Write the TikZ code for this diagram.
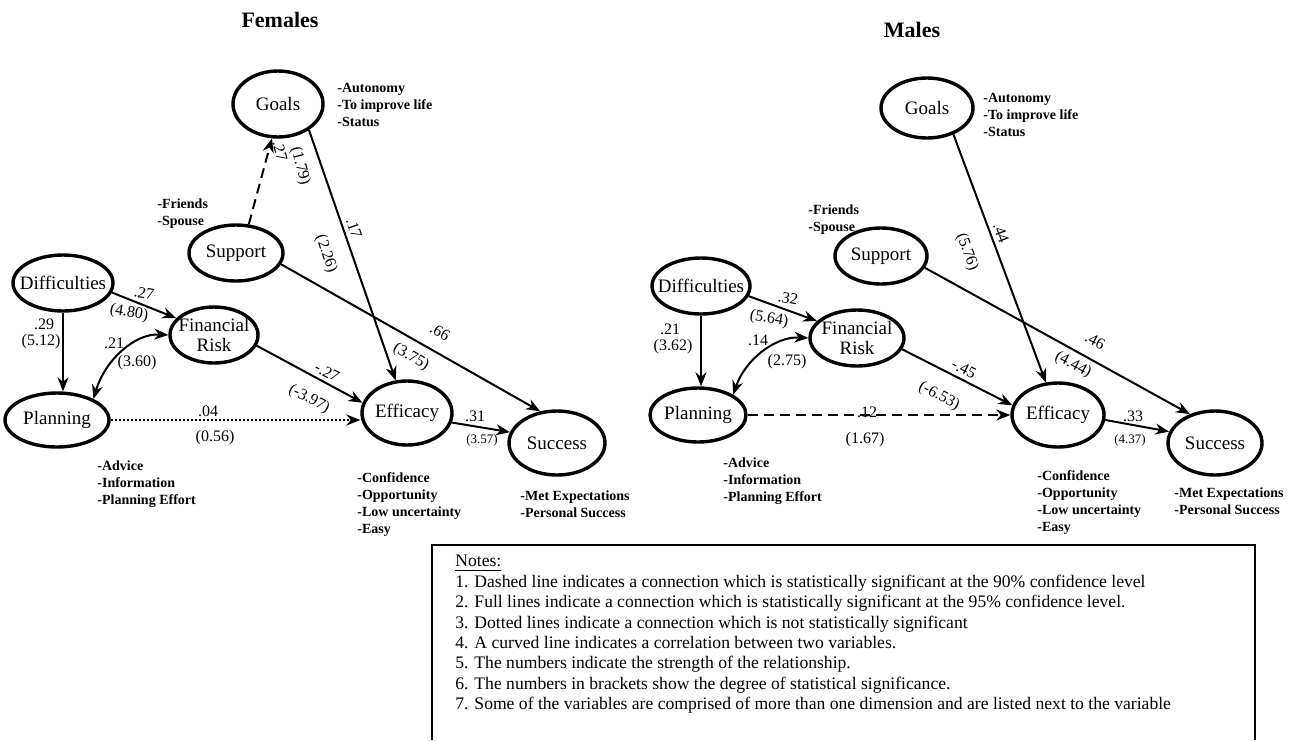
\documentclass[tikz,border=0pt]{standalone}
\usepackage{fontspec}
\setmainfont{Liberation Serif}
\usetikzlibrary{shapes.geometric,arrows.meta}
\newcommand{\ename}[1]{\makebox[0pt]{#1}}

\begin{document}
\begin{tikzpicture}[x=0.5pt,y=-0.5pt,>={Stealth[length=7pt,width=5.5pt]}]
        \tikzstyle{state}=[ellipse,draw=black,line width=1.7pt,inner sep=0pt,font=\fontsize{9.5}{9}\selectfont]
        \tikzstyle{link}=[line width=1pt]
        \tikzstyle{lbl}=[inner sep=0pt,font=\fontsize{8}{9}\selectfont]
        \tikzstyle{lbls}=[inner sep=0pt,font=\fontsize{6.5}{7}\selectfont]
        \tikzstyle{dims}=[anchor=north west,align=left,inner sep=0pt,font=\fontsize{7}{8.5}\selectfont\bfseries]
        \tikzstyle{heading}=[inner sep=0pt,font=\fontsize{11}{12}\selectfont\bfseries]
        \tikzstyle{sig90}=[dash pattern=on 5pt off 3pt]
        \useasboundingbox (0,0) rectangle (1299,740);

        \node[heading] (ft) at (280,20) {Females};
        \node[state,minimum width=45pt,minimum height=33pt] (f1) at (278,104) {\ename{Goals}};
        \node[state,minimum width=47pt,minimum height=28pt] (f2) at (236,253) {\ename{Support}};
        \node[state,minimum width=50pt,minimum height=28pt] (f3) at (63,283) {\ename{Difficulties}};
        \node[state,minimum width=44pt,minimum height=28pt] (f4) at (214,335) {\ename{\shortstack{Financial\\Risk}}};
        \node[state,minimum width=52pt,minimum height=27pt] (f5) at (57,420) {\ename{Planning}};
        \node[state,minimum width=45pt,minimum height=32pt] (f6) at (407,413) {\ename{Efficacy}};
        \node[state,minimum width=48pt,minimum height=32pt] (f7) at (557,443) {\ename{Success}};

        \node[dims] (fd1) at (337,83) {-Autonomy\\-To improve life\\-Status};
        \node[dims] (fd2) at (157,198) {-Friends\\-Spouse};
        \node[dims] (fd5) at (97,460) {-Advice\\-Information\\-Planning Effort};
        \node[dims] (fd6) at (357,472) {-Confidence\\-Opportunity\\-Low uncertainty\\-Easy};
        \node[dims] (fd7) at (520,490) {-Met Expectations\\-Personal Success};

        \draw[link,sig90,->] (f2.66) -- (f1.-100);
        \draw[link,->] (f1.-40) -- (f6);
        \draw[link,->] (f2.-14) -- (f7.118);
        \draw[link,->] (f3.-11) -- (f4.156);
        \draw[link,->] (f3.south) -- (f3.south |- f5.north);
        \draw[link,<->] (f4.west) .. controls (135,333) and (105,360) .. (f5.30);
        \draw[link,->] (f4.-14) -- (f6.167);
        \draw[link,->,densely dotted] (f5.east) -- (f5.east -| f6.west);
        \draw[link,->] (f6.-12) -- (f7.167);

        \node[lbl,rotate=-75] (fl1) at (280,151) {.27};
        \node[lbl,rotate=-75] (fl2) at (300,166) {(1.79)};
        \node[lbl,rotate=-71] (fl3) at (354,228) {.17};
        \node[lbl,rotate=-71] (fl4) at (326,254) {(2.26)};
        \node[lbl,rotate=-30] (fl5) at (440,332) {.66};
        \node[lbl,rotate=-30] (fl6) at (411,357) {(3.75)};
        \node[lbl,rotate=-10] (fl7) at (144,293) {.27};
        \node[lbl,rotate=-10] (fl8) at (129,313) {(4.80)};
        \node[lbl] (fl9) at (44,324) {.29};
        \node[lbl] (fl10) at (41,342) {(5.12)};
        \node[lbl] (fl11) at (114,343) {.21};
        \node[lbl] (fl12) at (137,363) {(3.60)};
        \node[lbl,rotate=-28] (fl13) at (327,372) {-.27};
        \node[lbl,rotate=-28] (fl14) at (309,399) {(-3.97)};
        \node[lbl] (fl15) at (208,411) {.04};
        \node[lbl] (fl16) at (215,438) {(0.56)};
        \node[lbl] (fl17) at (475,416) {.31};
        \node[lbls] (fl18) at (482,440) {(3.57)};

        \node[heading] (mt) at (912,30) {Males};
        \node[state,minimum width=46pt,minimum height=30pt] (m1) at (927,108) {\ename{Goals}};
        \node[state,minimum width=46pt,minimum height=28pt] (m2) at (881,256) {\ename{Support}};
        \node[state,minimum width=49pt,minimum height=28pt] (m3) at (701,286) {\ename{Difficulties}};
        \node[state,minimum width=47pt,minimum height=28pt] (m4) at (857,338) {\ename{\shortstack{Financial\\Risk}}};
        \node[state,minimum width=48pt,minimum height=27pt] (m5) at (698,415) {\ename{Planning}};
        \node[state,minimum width=46pt,minimum height=32pt] (m6) at (1058,415) {\ename{Efficacy}};
        \node[state,minimum width=47pt,minimum height=32pt] (m7) at (1215,443) {\ename{Success}};

        \node[dims] (md1) at (983,93) {-Autonomy\\-To improve life\\-Status};
        \node[dims] (md2) at (808,204) {-Friends\\-Spouse};
        \node[dims] (md5) at (723,457) {-Advice\\-Information\\-Planning Effort};
        \node[dims] (md6) at (1037,470) {-Confidence\\-Opportunity\\-Low uncertainty\\-Easy};
        \node[dims] (md7) at (1174,487) {-Met Expectations\\-Personal Success};

        \draw[link,->] (m1.-45) -- (m6);
        \draw[link,->] (m2.-15) -- (m7.131);
        \draw[link,->] (m3.-12) -- (m4.157);
        \draw[link,->] (m3.south) -- (m3.south |- m5.north);
        \draw[link,<->] (m4.west) .. controls (775,336) and (745,360) .. (m5.30);
        \draw[link,->] (m4.-14) -- (m6.168);
        \draw[link,sig90,->] (m5.east) -- (m5.east -| m6.west);
        \draw[link,->] (m6.-6) -- (m7.166);

        \node[lbl,rotate=-70] (ml1) at (1001,233) {.44};
        \node[lbl,rotate=-70] (ml2) at (967,252) {(5.76)};
        \node[lbl,rotate=-28] (ml3) at (1095,341) {.46};
        \node[lbl,rotate=-28] (ml4) at (1073,365) {(4.44)};
        \node[lbl,rotate=-10] (ml5) at (788,298) {.32};
        \node[lbl,rotate=-10] (ml6) at (769,319) {(5.64)};
        \node[lbl] (ml7) at (670,329) {.21};
        \node[lbl] (ml8) at (673,347) {(3.62)};
        \node[lbl] (ml9) at (758,340) {.14};
        \node[lbl] (ml10) at (787,362) {(2.75)};
        \node[lbl,rotate=-28] (ml11) at (964,369) {-.45};
        \node[lbl,rotate=-28] (ml12) at (939,396) {(-6.53)};
        \node[lbl] (ml13) at (867,412) {.12};
        \node[lbl] (ml14) at (865,440) {(1.67)};
        \node[lbl] (ml15) at (1133,416) {.33};
        \node[lbls] (ml16) at (1130,440) {(4.37)};

        \draw[line width=0.8pt] (432,740) -- (432,545) -- (1255,545) -- (1255,740);
        \node[anchor=north west,align=left,inner sep=0pt,font=\fontsize{8.8}{10.2}\selectfont] (nt) at (455,555) {\underline{Notes:}\\
        1. Dashed line indicates a connection which is statistically significant at the 90\% confidence level\\
        2. Full lines indicate a connection which is statistically significant at the 95\% confidence level.\\
        3. Dotted lines indicate a connection which is not statistically significant\\
        4. A curved line indicates a correlation between two variables.\\
        5. The numbers indicate the strength of the relationship.\\
        6. The numbers in brackets show the degree of statistical significance.\\
        7. Some of the variables are comprised of more than one dimension and are listed next to the variable};
    \end{tikzpicture}
\end{document}
